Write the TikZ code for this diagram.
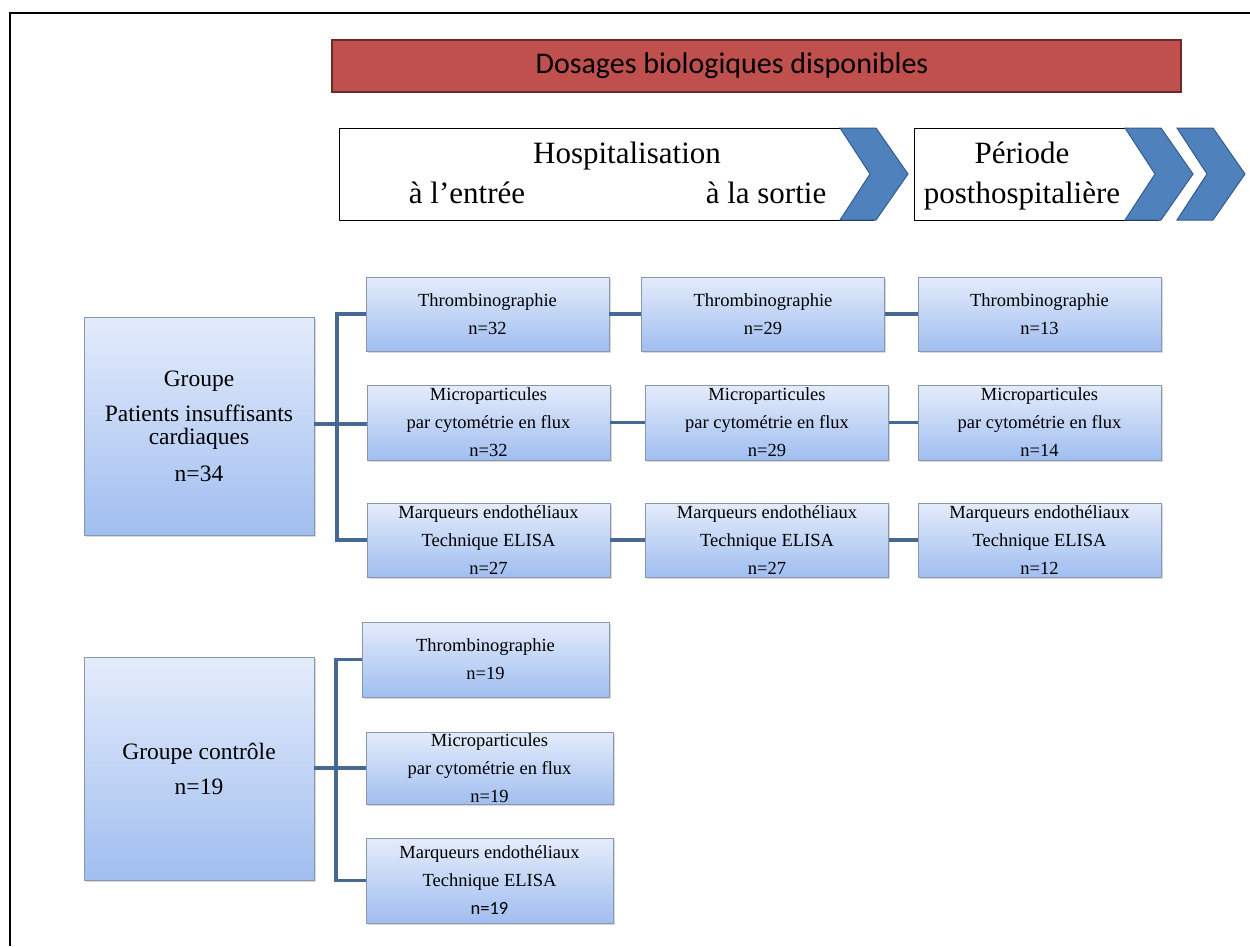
\documentclass[tikz,border=0pt]{standalone}
\usepackage{fontspec}
\setmainfont{Liberation Serif}
\newfontfamily\calibri{Carlito}
\usetikzlibrary{positioning,shadows}

\definecolor{boxtop}{RGB}{228,236,251}
\definecolor{boxbot}{RGB}{160,190,240}
\definecolor{boxline}{RGB}{138,150,172}
\definecolor{linkblue}{RGB}{70,104,145}
\definecolor{barred}{RGB}{192,80,77}
\definecolor{barline}{RGB}{110,42,42}
\definecolor{chevfill}{RGB}{79,129,189}
\definecolor{chevline}{RGB}{52,92,142}

\tikzset{
  dosage/.style={draw=boxline,line width=0.8pt,top color=boxtop,bottom color=boxbot,
    minimum width=243pt,inner sep=0pt,align=center,font=\fontsize{18.5}{28}\selectfont,
    drop shadow={shadow xshift=1.5pt,shadow yshift=-1.5pt,opacity=0.3}},
  groupe/.style={dosage,minimum width=230pt,font=\fontsize{23.5}{23}\selectfont},
  periode/.style={draw,line width=1pt,inner sep=0pt,minimum height=92pt},
  titre/.style={anchor=base,inner sep=0pt,font=\fontsize{31}{31}\selectfont},
  link/.style={draw=linkblue,line width=3.5pt},
  chevron/.pic={
    \draw[fill=chevfill,draw=chevline,line width=1pt]
      (0,0) -- (36,0) -- (68,46) -- (36,92) -- (0,92) -- (30,46) -- cycle;
  }
}

\begin{document}
\begin{tikzpicture}[x=1pt,y=-1pt]
    \useasboundingbox (0,0) rectangle (1250,946);
    % cadre
    \draw[line width=2.5pt] (10,946) -- (10,13) -- (1250,13);

    % bandeau
    \node[draw=barline,fill=barred,line width=1.2pt,minimum width=849pt,minimum height=52pt] (bar) at (756.5,66) {};
    \node[inner sep=0pt,font=\calibri\fontsize{30}{30}\selectfont] (bartxt) at (732,66) {Dosages biologiques disponibles};

    % periodes
    \node[periode,minimum width=534pt] (hosp) at (606,174) {};
    \node[periode,minimum width=244pt] (post) at (1036,174) {};
    \pic at (840,128) {chevron};
    \pic at (1125,128) {chevron};
    \pic at (1177,128) {chevron};
    \node[titre] (hosptxt) at (627,163) {Hospitalisation};
    \node[titre] (entree) at (467,203) {à l’entrée};
    \node[titre] (sortie) at (766,203) {à la sortie};
    \node[titre] (posttxt) at (1022,163) {Période};
    \node[titre] (posthosp) at (1022,203) {posthospitalière};

    % groupe patients
    \node[groupe,minimum height=218pt] (g1) at (199,426) {Groupe\\[12pt]Patients insuffisants\\cardiaques\\[14pt]n=34};
    \node[dosage,minimum height=74pt] (a1) at (487.5,314) {Thrombinographie\\n=32};
    \node[dosage,minimum height=75pt] (a2) at (488.5,422.5) {Microparticules\\par cytométrie en flux\\n=32};
    \node[dosage,minimum height=74pt] (a3) at (488.5,540) {Marqueurs endothéliaux\\Technique ELISA\\n=27};
    \node[dosage,minimum height=74pt] (b1) at (763,314) {Thrombinographie\\n=29};
    \node[dosage,minimum height=75pt] (b2) at (767,422.5) {Microparticules\\par cytométrie en flux\\n=29};
    \node[dosage,minimum height=74pt] (b3) at (767,540) {Marqueurs endothéliaux\\Technique ELISA\\n=27};
    \node[dosage,minimum height=74pt] (c1) at (1039.5,314) {Thrombinographie\\n=13};
    \node[dosage,minimum height=75pt] (c2) at (1039.5,422.5) {Microparticules\\par cytométrie en flux\\n=14};
    \node[dosage,minimum height=74pt] (c3) at (1039.5,540) {Marqueurs endothéliaux\\Technique ELISA\\n=12};

    \coordinate (j1) at (337,424);
    \draw[link] (g1.east |- j1) -- (j1);
    \draw[link] (a1.west) -| (j1) |- (a3.west);
    \draw[link] (j1) -- (j1 -| a2.west);
    \path[link]
    (a1) edge (b1)
    (a2) edge (b2)
    (a3) edge (b3)
    (b1) edge (c1)
    (b2) edge (c2)
    (b3) edge (c3)
    ;

    % groupe controle
    \node[groupe,minimum height=223pt] (g2) at (199,768.5) {Groupe contrôle\\[12pt]n=19};
    \node[dosage,minimum height=75pt,minimum width=247pt] (k1) at (485.5,659.5) {Thrombinographie\\n=19};
    \node[dosage,minimum height=72pt,minimum width=247pt] (k2) at (489.5,768) {Microparticules\\par cytométrie en flux\\n=19};
    \node[dosage,minimum height=85pt,minimum width=247pt] (k3) at (489.5,880.5) {Marqueurs endothéliaux\\Technique ELISA\\{\calibri n=19}};

    \coordinate (j2) at (336,768);
    \draw[link] (g2.east |- j2) -- (j2);
    \draw[link] (k1.west) -| (j2) |- (k3.west);
    \draw[link] (j2) -- (j2 -| k2.west);
\end{tikzpicture}
\end{document}
